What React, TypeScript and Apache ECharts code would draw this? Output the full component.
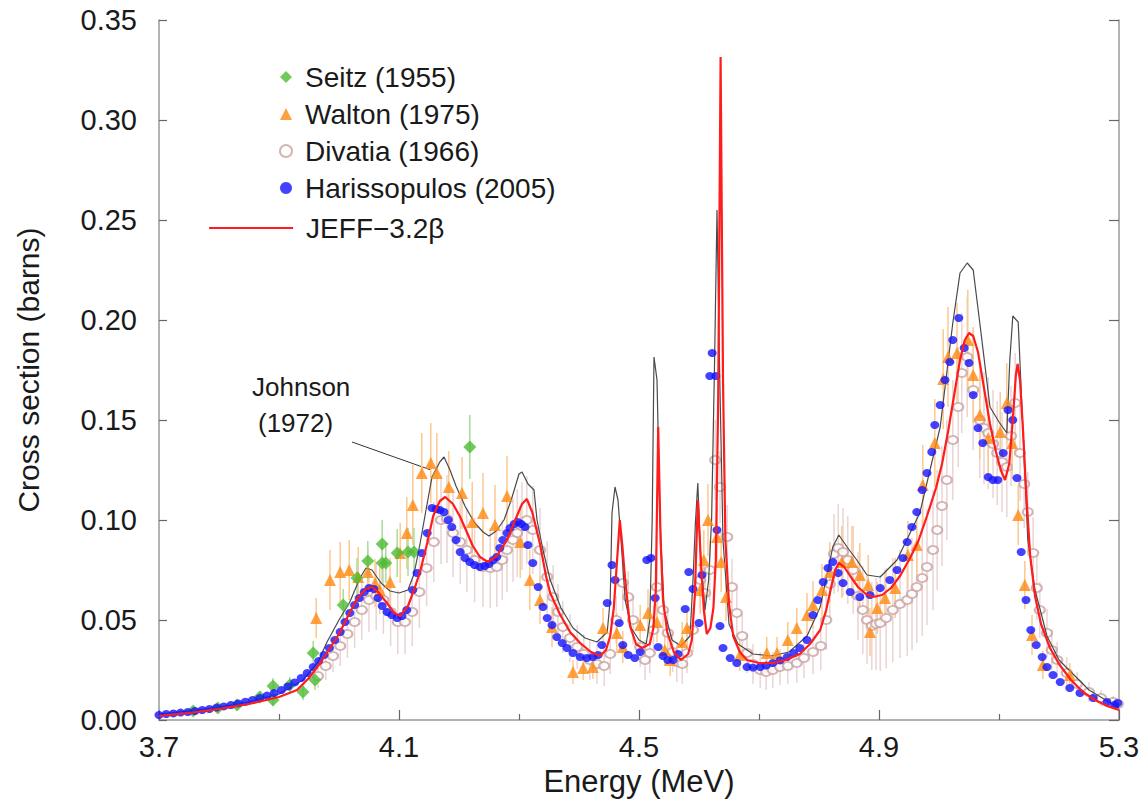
import React, { useEffect, useRef } from "react";
import * as echarts from "echarts";

// ---------- data (Energy MeV, cross section barns) ----------
const jeffCurve: [number, number][] = [
  [3.700, 0.0020], [3.750, 0.0035], [3.800, 0.0055], [3.850, 0.0080], [3.900, 0.0115], [3.930, 0.0150],
  [3.950, 0.0210], [3.970, 0.0290], [3.985, 0.0360], [4.000, 0.0430], [4.015, 0.0520], [4.030, 0.0605],
  [4.045, 0.0655], [4.055, 0.0665], [4.065, 0.0640], [4.080, 0.0585], [4.092, 0.0535], [4.102, 0.0520],
  [4.115, 0.0570], [4.125, 0.0650], [4.135, 0.0740], [4.147, 0.0885], [4.157, 0.1020], [4.168, 0.1095],
  [4.177, 0.1115], [4.190, 0.1080], [4.202, 0.1015], [4.213, 0.0940], [4.223, 0.0870], [4.235, 0.0815],
  [4.248, 0.0790], [4.263, 0.0820], [4.280, 0.0900], [4.295, 0.1010], [4.305, 0.1080], [4.313, 0.1105],
  [4.322, 0.1040], [4.335, 0.0880], [4.345, 0.0720], [4.352, 0.0635], [4.368, 0.0530], [4.385, 0.0440],
  [4.402, 0.0385], [4.420, 0.0340], [4.435, 0.0320], [4.445, 0.0350], [4.452, 0.0420], [4.458, 0.0560],
  [4.463, 0.0780], [4.468, 0.1000], [4.472, 0.0880], [4.477, 0.0700], [4.485, 0.0470], [4.495, 0.0380],
  [4.505, 0.0360], [4.518, 0.0380], [4.524, 0.0460], [4.528, 0.0650], [4.532, 0.1465], [4.536, 0.0900],
  [4.540, 0.0600], [4.547, 0.0440], [4.558, 0.0340], [4.570, 0.0300], [4.582, 0.0330], [4.588, 0.0400],
  [4.593, 0.0620], [4.598, 0.1100], [4.603, 0.0800], [4.608, 0.0550], [4.613, 0.0430], [4.619, 0.0460],
  [4.624, 0.0560], [4.628, 0.0800], [4.632, 0.1600], [4.636, 0.3315], [4.640, 0.1700], [4.644, 0.0900],
  [4.650, 0.0580], [4.657, 0.0420], [4.668, 0.0340], [4.680, 0.0300], [4.700, 0.0285], [4.723, 0.0285],
  [4.745, 0.0300], [4.768, 0.0330], [4.785, 0.0380], [4.802, 0.0450], [4.812, 0.0550], [4.820, 0.0660],
  [4.827, 0.0750], [4.833, 0.0785], [4.842, 0.0765], [4.852, 0.0720], [4.865, 0.0665], [4.878, 0.0630],
  [4.890, 0.0615], [4.905, 0.0625], [4.920, 0.0660], [4.935, 0.0720], [4.950, 0.0800], [4.965, 0.0890],
  [4.980, 0.1020], [4.995, 0.1160], [5.005, 0.1280], [5.015, 0.1440], [5.025, 0.1620], [5.035, 0.1800],
  [5.043, 0.1900], [5.050, 0.1935], [5.057, 0.1920], [5.065, 0.1840], [5.075, 0.1660], [5.085, 0.1480],
  [5.095, 0.1340], [5.103, 0.1250], [5.110, 0.1200], [5.117, 0.1280], [5.123, 0.1500], [5.128, 0.1720],
  [5.131, 0.1780], [5.135, 0.1700], [5.140, 0.1450], [5.146, 0.1100], [5.152, 0.0820], [5.160, 0.0620],
  [5.170, 0.0480], [5.185, 0.0360], [5.200, 0.0280], [5.220, 0.0200], [5.240, 0.0140], [5.260, 0.0100],
  [5.280, 0.0070], [5.300, 0.0050],
];

const johnsonCurve: [number, number][] = [
  [3.700, 0.0030], [3.750, 0.0045], [3.800, 0.0065], [3.850, 0.0090], [3.900, 0.0130], [3.940, 0.0200],
  [3.965, 0.0290], [3.980, 0.0390], [4.000, 0.0500], [4.018, 0.0590], [4.035, 0.0710], [4.045, 0.0760],
  [4.055, 0.0750], [4.070, 0.0685], [4.085, 0.0645], [4.100, 0.0635], [4.115, 0.0650], [4.125, 0.0730],
  [4.135, 0.0880], [4.145, 0.1050], [4.155, 0.1215], [4.168, 0.1290], [4.175, 0.1315], [4.185, 0.1250],
  [4.195, 0.1170], [4.210, 0.1070], [4.225, 0.0990], [4.240, 0.0940], [4.250, 0.0920], [4.262, 0.0945],
  [4.275, 0.1000], [4.287, 0.1100], [4.300, 0.1230], [4.305, 0.1240], [4.315, 0.1180], [4.325, 0.1150],
  [4.330, 0.1000], [4.340, 0.0850], [4.352, 0.0700], [4.370, 0.0560], [4.390, 0.0460], [4.410, 0.0410],
  [4.430, 0.0390], [4.447, 0.0440], [4.452, 0.0600], [4.455, 0.1035], [4.460, 0.1165], [4.465, 0.1100],
  [4.470, 0.0900], [4.477, 0.0600], [4.487, 0.0460], [4.500, 0.0400], [4.512, 0.0380], [4.518, 0.0500],
  [4.522, 0.1000], [4.525, 0.1815], [4.530, 0.1700], [4.535, 0.1000], [4.542, 0.0550], [4.555, 0.0400],
  [4.570, 0.0370], [4.585, 0.0420], [4.590, 0.0700], [4.594, 0.0985], [4.598, 0.1185], [4.603, 0.0800],
  [4.610, 0.0550], [4.616, 0.0700], [4.621, 0.1000], [4.626, 0.1800], [4.630, 0.2550], [4.634, 0.1800],
  [4.640, 0.0900], [4.650, 0.0480], [4.665, 0.0380], [4.690, 0.0330], [4.720, 0.0320], [4.750, 0.0340],
  [4.780, 0.0420], [4.802, 0.0565], [4.823, 0.0865], [4.833, 0.0925], [4.848, 0.0860], [4.863, 0.0800],
  [4.880, 0.0725], [4.902, 0.0715], [4.930, 0.0800], [4.968, 0.1035], [5.002, 0.1465], [5.023, 0.1985],
  [5.035, 0.2235], [5.047, 0.2285], [5.057, 0.2250], [5.068, 0.1985], [5.085, 0.1565], [5.100, 0.1490],
  [5.113, 0.1435], [5.118, 0.1800], [5.123, 0.2020], [5.132, 0.1990], [5.143, 0.1235], [5.148, 0.0900],
  [5.160, 0.0650], [5.180, 0.0420], [5.200, 0.0300], [5.250, 0.0150], [5.300, 0.0060],
];

const harissopulos: [number, number][] = [
  [3.700, .0025], [3.712, .0030], [3.724, .0033], [3.736, .0037], [3.748, .0040], [3.760, .0045],
  [3.772, .0050], [3.784, .0055], [3.796, .0062], [3.808, .0068], [3.820, .0075], [3.832, .0083],
  [3.844, .0091], [3.856, .0100], [3.868, .0110], [3.880, .0122], [3.892, .0135], [3.904, .0150],
  [3.915, .0168], [3.926, .0188], [3.937, .0210], [3.947, .0235], [3.957, .0265], [3.966, .0295],
  [3.975, .0325], [3.984, .0360], [3.993, .0400], [4.002, .0440], [4.010, .0490], [4.018, .0535],
  [4.026, .0575], [4.034, .0610], [4.042, .0640], [4.050, .0660], [4.058, .0655], [4.065, .0610],
  [4.072, .0570], [4.080, .0540], [4.088, .0525], [4.097, .0510], [4.105, .0520], [4.113, .0550],
  [4.123, .0650], [4.130, .0735], [4.138, .0835], [4.147, .0935], [4.155, .1060], [4.162, .1055],
  [4.168, .1050], [4.175, .1040], [4.182, .1000], [4.188, .0965], [4.195, .0900], [4.202, .0840],
  [4.210, .0810], [4.218, .0790], [4.226, .0775], [4.235, .0765], [4.243, .0770], [4.250, .0780],
  [4.257, .0800], [4.263, .0815], [4.268, .0860], [4.273, .0900], [4.280, .0935], [4.285, .0960],
  [4.292, .0980], [4.298, .0990], [4.304, .0980], [4.310, .0965], [4.315, .0875], [4.323, .0785],
  [4.332, .0665], [4.340, .0565], [4.347, .0510], [4.355, .0475], [4.363, .0415], [4.372, .0385],
  [4.380, .0360], [4.390, .0335], [4.402, .0315], [4.413, .0310], [4.423, .0315], [4.432, .0325],
  [4.438, .0375], [4.447, .0585], [4.455, .0775], [4.460, .0700], [4.467, .0485], [4.473, .0375],
  [4.482, .0325], [4.493, .0310], [4.502, .0340], [4.513, .0800], [4.520, .0810], [4.527, .0610],
  [4.532, .0365], [4.540, .0320], [4.548, .0300], [4.557, .0300], [4.565, .0330], [4.577, .0555],
  [4.583, .0740], [4.590, .0655], [4.600, .0485], [4.605, .0725], [4.618, .1720], [4.622, .1835],
  [4.628, .1720], [4.630, .0950], [4.635, .0470], [4.640, .0360], [4.652, .0310], [4.663, .0285],
  [4.680, .0265], [4.690, .0262], [4.702, .0265], [4.712, .0272], [4.723, .0285], [4.735, .0298],
  [4.747, .0315], [4.758, .0335], [4.768, .0360], [4.780, .0400], [4.790, .0525], [4.798, .0600],
  [4.807, .0690], [4.815, .0760], [4.823, .0790], [4.832, .0735], [4.840, .0685], [4.852, .0640],
  [4.868, .0615], [4.885, .0625], [4.902, .0660], [4.918, .0700], [4.930, .0750], [4.940, .0810],
  [4.947, .0890], [4.955, .0965], [4.963, .1040], [4.972, .1150], [4.980, .1235], [4.988, .1340],
  [4.993, .1475], [5.002, .1575], [5.010, .1700], [5.018, .1790], [5.023, .1900], [5.033, .2010],
  [5.042, .1860], [5.050, .1785], [5.057, .1625], [5.065, .1460], [5.073, .1385], [5.082, .1215],
  [5.090, .1200], [5.098, .1200], [5.107, .1335], [5.115, .1550], [5.123, .1500], [5.130, .1210],
  [5.137, .0840], [5.145, .0600], [5.153, .0450], [5.162, .0375], [5.172, .0315], [5.180, .0265],
  [5.190, .0225], [5.202, .0190], [5.218, .0160], [5.235, .0135], [5.257, .0110], [5.280, .0090],
  [5.293, .0075], [5.298, .0085],
];

// [energy, value, error]
const divatia: [number, number, number][] = [
  [3.965, .022, .006], [3.978, .027, .007], [3.990, .032, .008], [4.002, .037, .010], [4.014, .043, .012],
  [4.026, .049, .013], [4.038, .055, .015], [4.050, .060, .016], [4.062, .062, .017], [4.074, .060, .017],
  [4.086, .054, .017], [4.098, .049, .016], [4.110, .049, .016], [4.122, .054, .017], [4.134, .064, .018],
  [4.146, .076, .019], [4.158, .089, .020], [4.170, .100, .022], [4.180, .1005, .022], [4.190, .0935, .022],
  [4.202, .089, .021], [4.213, .085, .021], [4.226, .080, .021], [4.240, .0765, .020], [4.252, .076, .020],
  [4.263, .0765, .020], [4.272, .080, .020], [4.280, .085, .021], [4.290, .090, .021], [4.297, .0935, .022],
  [4.305, .097, .022], [4.313, .100, .022], [4.323, .095, .022], [4.335, .085, .021], [4.347, .0715, .018],
  [4.357, .0615, .016], [4.365, .054, .014], [4.373, .0465, .013], [4.385, .041, .012], [4.397, .0365, .011],
  [4.408, .033, .010], [4.418, .030, .010], [4.430, .028, .010], [4.442, .027, .010], [4.452, .033, .010],
  [4.462, .050, .012], [4.473, .0685, .014], [4.482, .0615, .013], [4.490, .050, .012], [4.502, .0365, .010],
  [4.510, .030, .010], [4.518, .0335, .010], [4.524, .045, .012], [4.530, .0665, .014], [4.540, .055, .012],
  [4.548, .0435, .011], [4.556, .034, .010], [4.563, .029, .010], [4.572, .028, .010], [4.580, .0335, .010],
  [4.590, .045, .011], [4.602, .070, .014], [4.610, .0635, .013], [4.618, .075, .015], [4.627, .130, .020],
  [4.635, .1165, .018], [4.647, .0915, .016], [4.655, .0665, .014], [4.663, .0535, .012], [4.672, .042, .011],
  [4.680, .0335, .010], [4.690, .028, .010], [4.702, .025, .009], [4.712, .024, .009], [4.723, .025, .009],
  [4.735, .0265, .009], [4.748, .027, .009], [4.763, .0285, .010], [4.775, .031, .010], [4.790, .034, .011],
  [4.803, .037, .012], [4.812, .050, .015], [4.818, .068, .018], [4.825, .083, .020], [4.832, .086, .022],
  [4.840, .084, .022], [4.848, .080, .022], [4.857, .075, .022], [4.865, .062, .022], [4.873, .055, .022],
  [4.880, .050, .022], [4.888, .047, .022], [4.895, .048, .023], [4.902, .0485, .024], [4.912, .051, .025],
  [4.923, .055, .026], [4.935, .058, .027], [4.947, .060, .028], [4.955, .063, .028], [4.963, .0665, .028],
  [4.972, .071, .029], [4.980, .0765, .029], [4.990, .085, .030], [4.997, .095, .030], [5.005, .107, .030],
  [5.013, .120, .030], [5.023, .140, .030], [5.032, .1565, .030], [5.038, .1735, .030], [5.047, .1815, .030],
  [5.057, .165, .030], [5.068, .150, .029], [5.075, .146, .028], [5.082, .1435, .028], [5.090, .138, .027],
  [5.097, .1335, .026], [5.105, .129, .025], [5.113, .1265, .025], [5.120, .142, .025], [5.127, .1585, .025],
  [5.135, .1335, .024], [5.142, .118, .022], [5.148, .104, .020], [5.157, .0835, .018], [5.163, .066, .016],
  [5.168, .055, .014], [5.180, .0435, .012], [5.188, .035, .010], [5.197, .030, .009], [5.213, .0235, .008],
  [5.230, .018, .006], [5.250, .014, .005], [5.270, .011, .004], [5.290, .009, .003], [5.298, .008, .003],
];

const walton: [number, number, number][] = [
  [3.962, .051, .010], [3.985, .070, .015], [4.002, .074, .015], [4.017, .075, .015], [4.032, .0715, .015],
  [4.048, .074, .012], [4.060, .0685, .012], [4.068, .065, .012], [4.085, .069, .012], [4.102, .0835, .015],
  [4.113, .0935, .018], [4.123, .1075, .020], [4.138, .1235, .020], [4.153, .1285, .020], [4.163, .1235, .020],
  [4.183, .1165, .018], [4.205, .1135, .018], [4.222, .099, .020], [4.240, .1035, .020], [4.260, .0975, .020],
  [4.280, .112, .020], [4.302, .089, .018], [4.318, .070, .015], [4.335, .060, .012], [4.355, .0465, .010],
  [4.390, .024, .006], [4.407, .026, .006], [4.423, .0265, .006], [4.440, .046, .010], [4.463, .0435, .010],
  [4.473, .0365, .008], [4.502, .0475, .010], [4.515, .0535, .012], [4.530, .049, .010], [4.543, .035, .008],
  [4.552, .030, .008], [4.572, .039, .010], [4.580, .046, .010], [4.602, .065, .012], [4.608, .080, .015],
  [4.615, .100, .018], [4.630, .0915, .015], [4.637, .079, .015], [4.645, .0615, .012], [4.668, .0325, .008],
  [4.713, .0335, .008], [4.730, .0335, .008], [4.748, .040, .009], [4.763, .046, .010], [4.780, .0525, .011],
  [4.790, .0575, .012], [4.805, .065, .013], [4.818, .074, .015], [4.838, .079, .018], [4.855, .079, .018],
  [4.868, .0725, .016], [4.882, .0675, .015], [4.885, .044, .012], [4.897, .056, .013], [4.910, .061, .014],
  [4.927, .066, .015], [4.948, .0825, .017], [4.963, .0875, .018], [4.973, .1175, .020], [4.993, .1385, .022],
  [5.007, .1705, .025], [5.015, .1815, .025], [5.030, .1835, .025], [5.048, .190, .025], [5.057, .1725, .024],
  [5.068, .1525, .022], [5.082, .141, .020], [5.102, .144, .020], [5.113, .1585, .020], [5.122, .1385, .018],
  [5.132, .1025, .015], [5.143, .0675, .012], [5.155, .0425, .010], [5.173, .0275, .007], [5.218, .0225, .006],
];

const seitz: [number, number, number][] = [
  [3.757, .0045, .002], [3.798, .006, .002], [3.830, .0075, .002], [3.868, .0115, .003], [3.890, .017, .004],
  [3.890, .010, .003], [3.918, .0175, .004], [3.940, .014, .004], [3.957, .0335, .006], [3.960, .020, .005],
  [4.007, .0575, .008], [4.030, .071, .010], [4.048, .0795, .010], [4.072, .0785, .010], [4.078, .0785, .010],
  [4.072, .088, .012], [4.097, .0835, .012], [4.115, .084, .012], [4.125, .084, .012], [4.218, .1365, .016],
];

const yTicks = { min: 0, max: 0.35, step: 0.05 };
const xTicks = { min: 3.7, max: 5.3, step: 0.4 };

const FONT = "'Liberation Sans', Arial, Helvetica, sans-serif";

function errorBars(name: string, pts: [number, number, number][], color: string, width: number) {
  return {
    type: "custom",
    name,
    silent: true,
    clip: true,
    encode: { x: 0, y: [1, 2] },
    data: pts.map((p) => [p[0], p[1] - p[2], p[1] + p[2]]),
    renderItem: (_params: any, api: any) => {
      const x = api.value(0);
      const a = api.coord([x, api.value(1)]);
      const b = api.coord([x, api.value(2)]);
      return {
        type: "line",
        shape: { x1: a[0], y1: a[1], x2: b[0], y2: b[1] },
        style: { stroke: color, lineWidth: width },
      };
    },
  };
}

export default function App() {
  const ref = useRef<HTMLDivElement>(null);
  useEffect(() => {
    if (!ref.current) return;
    const chart = echarts.init(ref.current, undefined, { renderer: "svg" });
    const axisCommon = {
      type: "value",
      axisLine: { show: true, lineStyle: { color: "#9a9a9a", width: 1.5 } },
      splitLine: { show: false },
    };
    const legendText = { fontFamily: FONT, fontSize: 28, color: "#1a1a1a", lineHeight: 30 };
    chart.setOption({
      animation: false,
      backgroundColor: "#ffffff",
      grid: { left: 159, top: 20, width: 960, height: 700, containLabel: false },
      xAxis: {
        ...axisCommon,
        min: xTicks.min,
        max: xTicks.max,
        interval: xTicks.step,
        name: "Energy (MeV)",
        nameLocation: "middle",
        nameGap: 46,
        nameTextStyle: { fontFamily: FONT, fontSize: 31, color: "#1a1a1a" },
        axisTick: { show: true, inside: true, length: 10, lineStyle: { color: "#666", width: 1.2 } },
        minorTick: { show: true, splitNumber: 2, length: 6, lineStyle: { color: "#666", width: 1.2 } },
        axisLabel: {
          fontFamily: FONT, fontSize: 29, color: "#1a1a1a", margin: 12,
          formatter: (v: number) => v.toFixed(1),
        },
      },
      yAxis: [
        {
          ...axisCommon,
          min: yTicks.min,
          max: yTicks.max,
          interval: yTicks.step,
          name: "Cross section (barns)",
          nameLocation: "middle",
          nameGap: 116,
          nameRotate: 90,
          nameTextStyle: { fontFamily: FONT, fontSize: 30, color: "#1a1a1a" },
          axisTick: { show: true, inside: true, length: 8, lineStyle: { color: "#666", width: 1.2 } },
          axisLabel: {
            fontFamily: FONT, fontSize: 29, color: "#1a1a1a", margin: 22,
            formatter: (v: number) => v.toFixed(2),
          },
        },
        {
          ...axisCommon,
          position: "right",
          min: yTicks.min,
          max: yTicks.max,
          interval: yTicks.step,
          axisTick: { show: true, inside: true, length: 10, lineStyle: { color: "#666", width: 1.2 } },
          axisLabel: { show: false },
        },
      ],
      legend: [
        {
          orient: "vertical",
          left: 274,
          top: 57,
          itemWidth: 12,
          itemHeight: 12,
          itemGap: 7,
          data: [
            { name: "Seitz (1955)", icon: "diamond" },
            { name: "Walton (1975)", icon: "triangle" },
            { name: "Divatia (1966)", icon: "emptyCircle" },
            { name: "Harissopulos (2005)", icon: "circle" },
          ],
          textStyle: { ...legendText, padding: [0, 0, 0, 8] },
        },
        {
          orient: "vertical",
          left: 203,
          top: 208,
          itemWidth: 84,
          itemHeight: 14,
          itemStyle: { opacity: 0 },
          lineStyle: { color: "#ff1c1c", width: 2.2 },
          data: ["JEFF\u22123.2\u03b2"],
          textStyle: { ...legendText, padding: [0, 0, 0, 8] },
        },
      ],
      graphic: [
        { type: "text", left: 252, top: 374, style: { text: "Johnson", font: `26px ${FONT}`, fill: "#1a1a1a" } },
        { type: "text", left: 258, top: 410, style: { text: "(1972)", font: `26px ${FONT}`, fill: "#1a1a1a" } },
        { type: "line", shape: { x1: 352, y1: 442, x2: 431, y2: 470 }, style: { stroke: "#333", lineWidth: 1 } },
      ],
      series: [
        errorBars("divErr", divatia, "#ead3d3", 1.5),
        errorBars("waltonErr", walton, "#fcc98f", 1.5),
        errorBars("seitzErr", seitz, "#a9dc98", 1.5),
        {
          type: "scatter",
          name: "Divatia (1966)",
          symbol: "emptyCircle",
          symbolSize: [10, 8],
          data: divatia.map((p) => [p[0], p[1]]),
          itemStyle: { color: "#c9a3a3", borderWidth: 1.2 },
        },
        {
          type: "line",
          name: "Johnson (1972)",
          data: johnsonCurve,
          symbol: "none",
          lineStyle: { color: "#4a4a4a", width: 1.2 },
          z: 3,
        },
        {
          type: "scatter",
          name: "Walton (1975)",
          symbol: "triangle",
          symbolSize: 12,
          data: walton.map((p) => [p[0], p[1]]),
          itemStyle: { color: "#ff8a12" },
          z: 4,
        },
        {
          type: "scatter",
          name: "Seitz (1955)",
          symbol: "diamond",
          symbolSize: 13,
          data: seitz.map((p) => [p[0], p[1]]),
          itemStyle: { color: "#4dbb33" },
          z: 4,
        },
        {
          type: "scatter",
          name: "Harissopulos (2005)",
          symbol: "circle",
          symbolSize: [9, 8],
          data: harissopulos,
          itemStyle: { color: "#1414ff" },
          z: 5,
        },
        {
          type: "line",
          name: "JEFF\u22123.2\u03b2",
          data: jeffCurve,
          symbol: "none",
          lineStyle: { color: "#ff1c1c", width: 2.2 },
          itemStyle: { color: "#ff1c1c" },
          z: 6,
        },
      ],
    });
    return () => chart.dispose();
  }, []);
  return (
    <div
      ref={ref}
      style={{ position: "fixed", left: 0, top: 0, width: 1143, height: 804, background: "#fff" }}
    />
  );
}
